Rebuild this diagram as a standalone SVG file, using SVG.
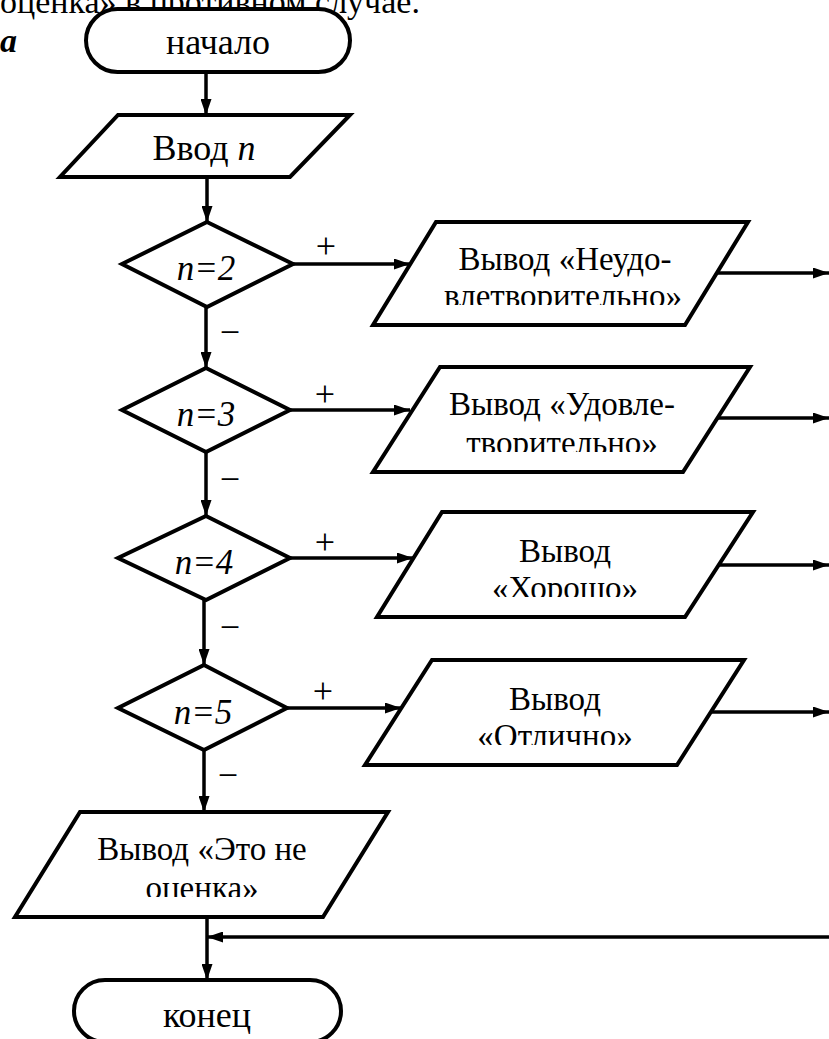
<svg xmlns="http://www.w3.org/2000/svg" width="829" height="1039" viewBox="0 0 829 1039">
  <style>
    .shape { fill: #fff; stroke: #000; stroke-width: 4; stroke-linejoin: miter; }
    .conn { fill: none; stroke: #000; stroke-width: 3.5; }
    .t { font-family: "Liberation Serif", "Times New Roman", serif; font-size: 33px; fill: #000; text-anchor: middle; }
    .big { font-size: 36px; }
    .cond { font-size: 35px; font-style: italic; }
    .it { font-style: italic; }
    .lbl { font-family: "Liberation Serif", "Times New Roman", serif; font-size: 36px; fill: #000; text-anchor: middle; }
  </style>
  <defs>
    <marker id="arrow" viewBox="0 0 16 11" refX="16" refY="5.5" markerWidth="16" markerHeight="11" markerUnits="userSpaceOnUse" orient="auto">
      <path d="M0,0 L16,5.5 L0,11 Z" fill="#000"/>
    </marker>
    <clipPath id="clipP1"><rect x="300" y="200" width="500" height="105"/></clipPath>
    <clipPath id="clipP2"><rect x="300" y="350" width="500" height="102"/></clipPath>
    <clipPath id="clipP3"><rect x="300" y="500" width="500" height="97"/></clipPath>
    <clipPath id="clipP4"><rect x="300" y="650" width="500" height="95"/></clipPath>
    <clipPath id="clipP5"><rect x="0" y="800" width="420" height="97"/></clipPath>
  </defs>

  <!-- running text above the chart -->
  <text x="0" y="13" style="font-family: 'Liberation Serif', serif; font-size: 34px;">оценка» в противном случае.</text>
  <text x="0" y="52" style="font-family: 'Liberation Serif', serif; font-size: 34px; font-weight: bold; font-style: italic;">а</text>

  <!-- connectors -->
  <g id="connectors">
    <line class="conn" x1="206" y1="72" x2="206" y2="115" marker-end="url(#arrow)"/>
    <line class="conn" x1="207" y1="177" x2="207" y2="222" marker-end="url(#arrow)"/>
    <line class="conn" x1="206" y1="307" x2="206" y2="368" marker-end="url(#arrow)"/>
    <line class="conn" x1="206" y1="452" x2="206" y2="516" marker-end="url(#arrow)"/>
    <line class="conn" x1="204" y1="600" x2="204" y2="665" marker-end="url(#arrow)"/>
    <line class="conn" x1="204" y1="750" x2="204" y2="812" marker-end="url(#arrow)"/>
    <line class="conn" x1="207" y1="917" x2="207" y2="980" marker-end="url(#arrow)"/>
    <!-- yes branches -->
    <line class="conn" x1="293" y1="264" x2="410" y2="264" marker-end="url(#arrow)"/>
    <line class="conn" x1="290" y1="410" x2="410" y2="410" marker-end="url(#arrow)"/>
    <line class="conn" x1="290" y1="558" x2="413" y2="558" marker-end="url(#arrow)"/>
    <line class="conn" x1="287" y1="708" x2="401" y2="708" marker-end="url(#arrow)"/>
    <!-- outputs leaving to the right -->
    <line class="conn" x1="717" y1="273" x2="829" y2="273" marker-end="url(#arrow)"/>
    <line class="conn" x1="717" y1="418" x2="829" y2="418" marker-end="url(#arrow)"/>
    <line class="conn" x1="718" y1="565" x2="829" y2="565" marker-end="url(#arrow)"/>
    <line class="conn" x1="710" y1="712" x2="829" y2="712" marker-end="url(#arrow)"/>
    <!-- return line -->
    <line class="conn" x1="829" y1="937" x2="207" y2="937" marker-end="url(#arrow)"/>
    <!-- branch labels -->
    <text class="lbl" x="326" y="258">+</text>
    <text class="lbl" x="325" y="406">+</text>
    <text class="lbl" x="325" y="554">+</text>
    <text class="lbl" x="323" y="703">+</text>
    <text class="lbl" x="230" y="344">−</text>
    <text class="lbl" x="230" y="491">−</text>
    <text class="lbl" x="230" y="639">−</text>
    <text class="lbl" x="228" y="787">−</text>
  </g>

  <g id="start">
    <rect class="shape" x="86" y="9" width="264" height="63" rx="31.5"/>
    <text class="t big" x="218" y="54">начало</text>
  </g>

  <g id="input">
    <polygon class="shape" points="118,115 350,115 290,177 60,177"/>
    <text class="t big" x="204" y="160">Ввод <tspan class="it">n</tspan></text>
  </g>

  <g id="cond2">
    <polygon class="shape" points="207,222 293,264 207,307 122,264"/>
    <text class="t cond" x="206" y="280">n=2</text>
  </g>
  <g id="cond3">
    <polygon class="shape" points="206,368 290,410 206,452 122,410"/>
    <text class="t cond" x="206" y="426">n=3</text>
  </g>
  <g id="cond4">
    <polygon class="shape" points="206,516 290,558 206,600 118,558"/>
    <text class="t cond" x="204" y="574">n=4</text>
  </g>
  <g id="cond5">
    <polygon class="shape" points="204,665 287,708 204,750 118,708"/>
    <text class="t cond" x="203" y="724">n=5</text>
  </g>

  <g id="out2">
    <polygon class="shape" points="436,222 748,222 685,325 373,325"/>
    <g clip-path="url(#clipP1)">
      <text class="t" x="565" y="270">Вывод «Неудо-</text>
      <text class="t" x="563" y="307">влетворительно»</text>
    </g>
  </g>
  <g id="out3">
    <polygon class="shape" points="440,367 750,367 683,472 373,472"/>
    <g clip-path="url(#clipP2)">
      <text class="t" x="562" y="415">Вывод «Удовле-</text>
      <text class="t" x="562" y="454">творительно»</text>
    </g>
  </g>
  <g id="out4">
    <polygon class="shape" points="442,512 753,512 685,617 377,617"/>
    <g clip-path="url(#clipP3)">
      <text class="t" x="565" y="562">Вывод</text>
      <text class="t" x="565" y="599">«Хорошо»</text>
    </g>
  </g>
  <g id="out5">
    <polygon class="shape" points="432,660 744,660 677,765 365,765"/>
    <g clip-path="url(#clipP4)">
      <text class="t" x="555" y="710">Вывод</text>
      <text class="t" x="555" y="747">«Отлично»</text>
    </g>
  </g>
  <g id="out-other">
    <polygon class="shape" points="80,812 388,812 323,917 15,917"/>
    <g clip-path="url(#clipP5)">
      <text class="t" x="202" y="860">Вывод «Это не</text>
      <text class="t" x="202" y="899">оценка»</text>
    </g>
  </g>

  <g id="end">
    <rect class="shape" x="74" y="980" width="267" height="62" rx="31"/>
    <text class="t big" x="207" y="1027">конец</text>
  </g>
</svg>
